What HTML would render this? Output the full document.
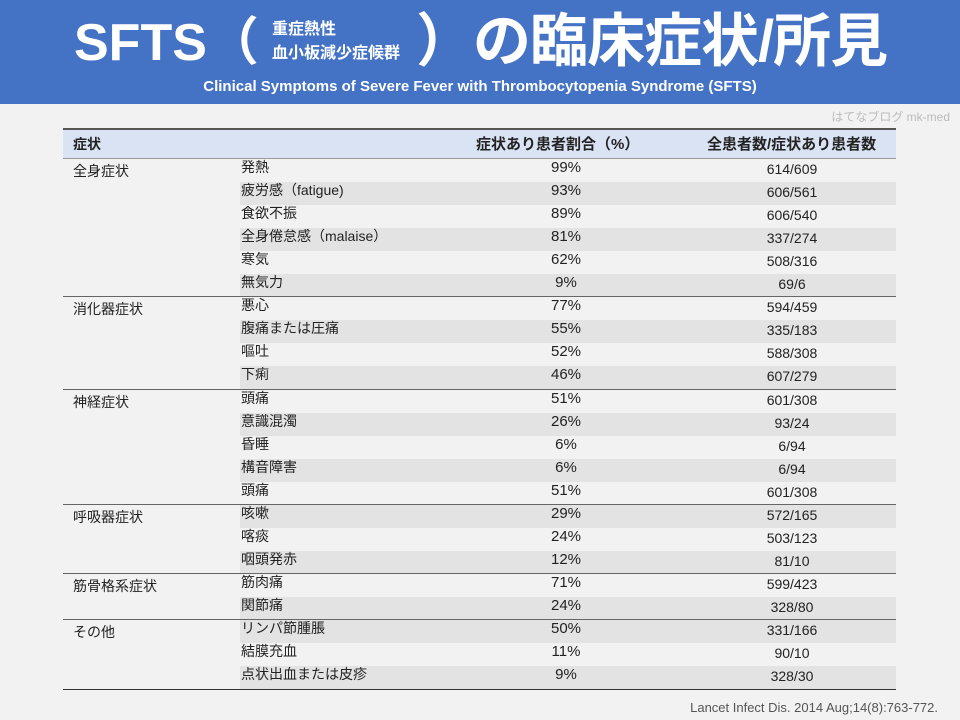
<!DOCTYPE html>
<html><head><meta charset="utf-8"><style>
*{margin:0;padding:0;box-sizing:border-box}
body{width:960px;height:720px;background:#f2f2f2;position:relative;overflow:hidden;font-family:"Liberation Sans","Noto Sans CJK JP",sans-serif;color:#222}
#bar{position:absolute;left:0;top:0;width:960px;height:104px;background:#4472c4}
.t{position:absolute;color:#fff;font-weight:bold;white-space:nowrap}
.c{position:absolute;white-space:nowrap;font-size:14px;line-height:23px}
</style></head><body>
<div id="bar"></div>
<div class="t" style="left:74px;top:12px;font-size:52px;line-height:62px">SFTS（</div>
<div class="t" style="left:272px;top:18px;font-size:16px;line-height:24px">重症熱性<br>血小板減少症候群</div>
<div class="t" style="left:416px;top:9px;font-size:58px;line-height:66px;letter-spacing:-1px">）の臨床症状/所見</div>
<div class="t" style="left:0;width:960px;text-align:center;top:78px;font-size:15px;line-height:18px">Clinical Symptoms of Severe Fever with Thrombocytopenia Syndrome (SFTS)</div>
<div class="c" style="right:10px;top:106px;font-size:12px;color:#bbb">はてなブログ mk-med</div>
<div style="position:absolute;left:63px;top:128px;width:833px;height:31px;background:#dae3f3;border-top:2px solid #555;border-bottom:1px solid #999"></div>
<div class="c" style="left:73px;top:133px;font-weight:bold">症状</div>
<div class="c" style="left:476px;top:133px;font-weight:bold;font-size:15px">症状あり患者割合（%）</div>
<div class="c" style="left:707px;top:133px;font-weight:bold;font-size:15px">全患者数/症状あり患者数</div>
<div id="rows"></div>
<div class="c" style="right:22px;top:696px;font-size:13px;color:#555">Lancet Infect Dis. 2014 Aug;14(8):763-772.</div>
<script>
const groups=["全身症状","消化器症状","神経症状","呼吸器症状","筋骨格系症状","その他"];
const groupSizes=[6,4,5,3,2,3];
const symptoms=["発熱","疲労感（fatigue)","食欲不振","全身倦怠感（malaise）","寒気","無気力","悪心","腹痛または圧痛","嘔吐","下痢","頭痛","意識混濁","昏睡","構音障害","頭痛","咳嗽","喀痰","咽頭発赤","筋肉痛","関節痛","リンパ節腫脹","結膜充血","点状出血または皮疹"];
const percents=[99,93,89,81,62,9,77,55,52,46,51,26,6,6,51,29,24,12,71,24,50,11,9];
const counts=["614/609","606/561","606/540","337/274","508/316","69/6","594/459","335/183","588/308","607/279","601/308","93/24","6/94","6/94","601/308","572/165","503/123","81/10","599/423","328/80","331/166","90/10","328/30"];
const shaded=[0,1,0,1,0,1,0,1,0,1,0,1,0,1,0,1,0,1,0,1,1,0,1];
const R=document.getElementById('rows');
const top0=159,h=23.05;
function mk(cls,style,txt){const d=document.createElement('div');d.className=cls;d.style.cssText=style;if(txt!==undefined)d.textContent=txt;R.appendChild(d);return d;}
symptoms.forEach((s,i)=>{
  const y=top0+i*h;
  if(shaded[i]){const b=mk('','position:absolute;left:240px;width:656px;height:'+h+'px;top:'+y+'px;background:#e3e3e3');
  
  }
  const a=mk('c','left:241px;top:'+(y-3)+'px',s);
  
  
  const p=mk('c','left:516px;width:100px;text-align:center;top:'+(y-3)+'px;font-size:15px',percents[i]+'%');
  
  
  const c=mk('c','left:742px;width:100px;text-align:center;top:'+(y-1)+'px',counts[i]);
  
  
});
let idx=0;
groups.forEach((g,k)=>{
  const y=top0+idx*h;
  const gl=mk('c','left:73px;top:'+(y+1)+'px',g);
  
  
  if(k>0){const l=mk('','position:absolute;left:63px;width:833px;height:0;top:'+(y-1)+'px;border-top:1.5px solid #666');
  
  }
  idx+=groupSizes[k];
});
const bl=mk('','position:absolute;left:63px;width:833px;height:0;top:'+(top0+idx*h)+'px;border-top:1.5px solid #333');


</script>
</body></html>
